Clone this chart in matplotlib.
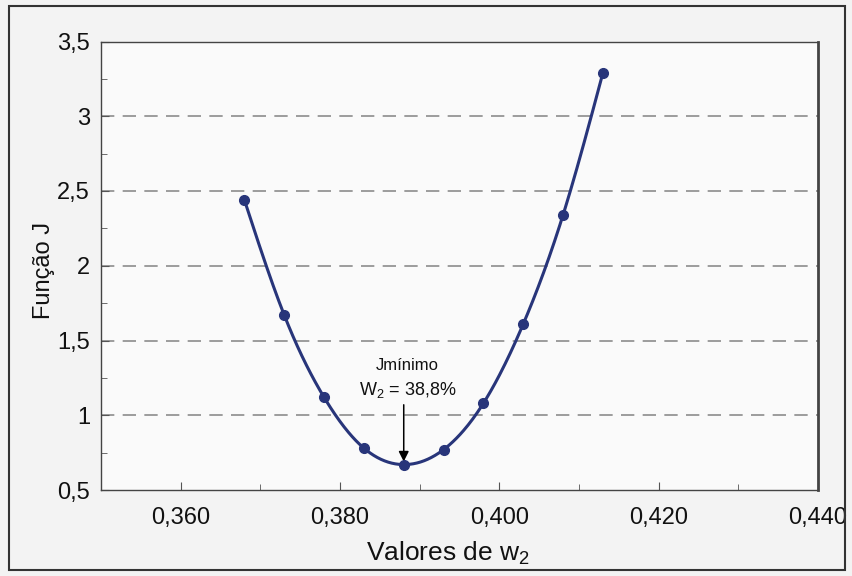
import numpy as np
import matplotlib.pyplot as plt
from matplotlib.patches import Rectangle

plt.rcParams['font.family'] = ['Liberation Sans', 'DejaVu Sans']
plt.rcParams['mathtext.fontset'] = 'custom'
plt.rcParams['mathtext.rm'] = 'Liberation Sans'
plt.rcParams['mathtext.it'] = 'Liberation Sans'

# data
w2 = [0.368, 0.373, 0.378, 0.383, 0.388, 0.393, 0.398, 0.403, 0.408, 0.413]
J = [2.44, 1.67, 1.12, 0.78, 0.67, 0.77, 1.08, 1.61, 2.34, 3.29]

x_ticks = [0.360, 0.380, 0.400, 0.420, 0.440]
x_labels = ['0,360', '0,380', '0,400', '0,420', '0,440']
y_ticks = [0.5, 1.0, 1.5, 2.0, 2.5, 3.0, 3.5]
y_labels = ['0,5', '1', '1,5', '2', '2,5', '3', '3,5']
grid_levels = [1.0, 1.5, 2.0, 2.5, 3.0]

w_min = 0.388
J_min = 0.67


def natural_spline(x, y, n=400):
    # natural cubic spline, only used to draw the smooth line
    x = np.asarray(x, float)
    y = np.asarray(y, float)
    k = len(x)
    h = np.diff(x)
    A = np.zeros((k, k))
    b = np.zeros(k)
    A[0, 0] = A[-1, -1] = 1
    for i in range(1, k - 1):
        A[i, i - 1] = h[i - 1]
        A[i, i] = 2 * (h[i - 1] + h[i])
        A[i, i + 1] = h[i]
        b[i] = 6 * ((y[i + 1] - y[i]) / h[i] - (y[i] - y[i - 1]) / h[i - 1])
    M = np.linalg.solve(A, b)
    xs = np.linspace(x[0], x[-1], n)
    idx = np.clip(np.searchsorted(x, xs) - 1, 0, k - 2)
    x0, x1 = x[idx], x[idx + 1]
    hh = x1 - x0
    t0 = x1 - xs
    t1 = xs - x0
    ys = (M[idx] * t0 ** 3 + M[idx + 1] * t1 ** 3) / (6 * hh) \
        + (y[idx] / hh - M[idx] * hh / 6) * t0 \
        + (y[idx + 1] / hh - M[idx + 1] * hh / 6) * t1
    return xs, ys


fig = plt.figure(figsize=(8.53, 5.76), dpi=100, facecolor='#f3f3f3')
ax = fig.add_axes([101 / 853, 86 / 576, 717 / 853, 448.5 / 576])
ax.set_facecolor('#fafafa')

# outer frame of the figure
fig.patches.append(Rectangle((9 / 853, 6 / 576), 836 / 853, 564 / 576,
                             transform=fig.transFigure, fill=False,
                             edgecolor='#333333', linewidth=1.5))

for lv in grid_levels:
    ax.axhline(lv, color='#8c8c8c', linewidth=1.2, dashes=(8, 5), zorder=1)

line_color = '#28357a'
xs, ys = natural_spline(w2, J)
ax.plot(xs, ys, color=line_color, linewidth=2.2, zorder=3)
ax.plot(w2, J, 'o', color=line_color, markersize=7, zorder=4)

ax.annotate('', xy=(w_min, J_min + 0.02), xytext=(w_min, 1.07),
            arrowprops=dict(arrowstyle='-|>', color='black', lw=1.1,
                            mutation_scale=15, shrinkA=0, shrinkB=0))
ax.text(w_min + 0.0005, 1.33, 'Jmínimo', ha='center', va='center',
        fontsize=12, color='#111111')
ax.text(w_min + 0.0005, 1.17, r'W$_2$ = 38,8%', ha='center',
        va='center', fontsize=13, color='#111111')

ax.set_xlim(0.350, 0.440)
ax.set_ylim(0.5, 3.5)
ax.set_xticks(x_ticks)
ax.set_xticklabels(x_labels, fontsize=17, color='#111111')
ax.set_yticks(y_ticks)
ax.set_yticklabels(y_labels, fontsize=17, color='#111111')
ax.set_xticks(np.arange(0.370, 0.440, 0.020), minor=True)
ax.set_yticks(np.arange(0.75, 3.5, 0.5), minor=True)
ax.tick_params(axis='both', which='both', direction='in', color='#555555')
ax.tick_params(axis='both', which='major', length=6)
ax.tick_params(axis='both', which='minor', length=4)
ax.tick_params(axis='x', pad=12)
ax.tick_params(axis='y', pad=8)

for sp in ax.spines.values():
    sp.set_color('#444444')
    sp.set_linewidth(1)
ax.spines['right'].set_linewidth(2)

ax.set_xlabel(r'Valores de w$_2$', fontsize=19, color='#111111')
ax.xaxis.set_label_coords(0.484, -0.112)
ax.set_ylabel('Função J', fontsize=17, color='#111111')
ax.yaxis.set_label_coords(-0.064, 0.49)

fig.savefig('out.png', dpi=100, facecolor=fig.get_facecolor())
